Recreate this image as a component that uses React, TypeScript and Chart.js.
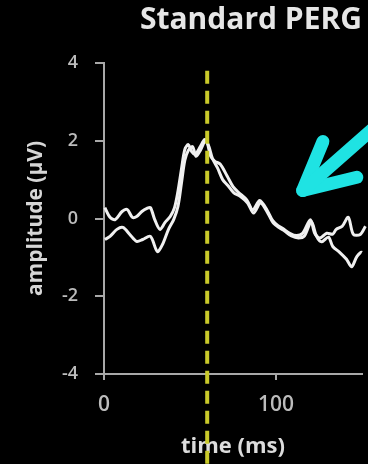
import React, { useEffect, useRef } from 'react';
import { Chart, registerables } from 'chart.js';

Chart.register(...registerables);

// ---- data ----
const timeA = [0.5, 3.5, 6.5, 10.5, 13.5, 16.5, 19, 22, 25, 27, 29.5, 32.5, 35.5, 38.5, 41, 43, 45, 47, 49, 51, 53, 56, 58.5, 60, 62, 64.5, 67.5, 71.5, 75, 78, 83, 86.5, 90.5, 95, 98, 101, 104, 108, 112, 115.5, 120, 122.5, 125.5, 129.5, 133, 135, 138.5, 142, 145, 149, 152, 153.5];
const ampA = [0.28, 0.03, -0.03, 0.18, 0.23, 0.03, 0.05, 0.18, 0.26, 0.28, -0.03, -0.28, -0.1, 0.05, 0.28, 0.7, 1.26, 1.78, 1.9, 1.72, 1.65, 1.85, 2.03, 1.96, 1.6, 1.47, 1.4, 1.1, 0.82, 0.68, 0.48, 0.22, 0.46, 0.2, -0.05, -0.18, -0.26, -0.38, -0.44, -0.38, -0.03, -0.38, -0.5, -0.38, -0.4, -0.28, -0.2, 0.03, -0.41, -0.41, -0.2, -0.1];

const timeB = [0.5, 3.5, 7.5, 11, 15, 19, 22.5, 27, 31, 34, 37.5, 40.5, 43, 45, 47, 49, 51.5, 53.5, 56, 59, 61, 63, 66, 69, 72, 75.5, 79, 83.5, 87, 91, 95.5, 98.5, 102, 105, 109, 113, 116.5, 120.5, 123.5, 126.5, 130.5, 133, 137, 141, 144, 147, 150, 153];
const ampB = [-0.54, -0.46, -0.28, -0.23, -0.41, -0.59, -0.54, -0.46, -0.85, -0.67, -0.28, -0.03, 0.31, 0.9, 1.5, 1.75, 1.85, 1.6, 1.75, 2.0, 1.85, 1.55, 1.3, 1.0, 0.85, 0.66, 0.58, 0.4, 0.14, 0.4, 0.12, -0.12, -0.24, -0.32, -0.45, -0.5, -0.45, -0.08, -0.45, -0.6, -0.48, -0.72, -0.87, -1.05, -1.24, -0.98, -0.87, -1.13];

const xTickValues = [0, 100];
const yTickValues = [-4, -2, 0, 2, 4];
const X_MIN = 0;
const X_MAX = 150;
const Y_MIN = -4;
const Y_MAX = 4;

const TITLE = 'Standard PERG';
const X_TITLE = 'time (ms)';
const Y_TITLE = 'amplitude (μV)';

// vertical marker (ms)
const MARKER_TIME = 60;
const MARKER_TOP_VALUE = 3.8;

// arrow annotation, in data units [time, amplitude]
const ARROW_TIP = [115.5, 0.72];
const ARROW_WING1 = [127.3, 1.98];
const ARROW_WING2 = [147, 1.06];
const ARROW_TAIL = [160, 2.45];

const FONT = '"Open Sans", sans-serif';

const overlayPlugin = {
  id: 'overlay',
  afterDatasetsDraw(chart: any) {
    const { ctx, scales } = chart;
    const xs = scales.x;
    const ys = scales.y;
    const px = (p: number[]) => [xs.getPixelForValue(p[0]), ys.getPixelForValue(p[1])];

    ctx.save();
    // arrow
    ctx.strokeStyle = '#1fe3e3';
    ctx.lineWidth = 13;
    ctx.lineCap = 'round';
    ctx.lineJoin = 'round';
    const t = px(ARROW_TIP);
    const w1 = px(ARROW_WING1);
    const w2 = px(ARROW_WING2);
    const tl = px(ARROW_TAIL);
    ctx.beginPath();
    ctx.moveTo(w1[0], w1[1]);
    ctx.lineTo(t[0], t[1]);
    ctx.lineTo(w2[0], w2[1]);
    ctx.stroke();
    ctx.beginPath();
    ctx.moveTo(t[0], t[1]);
    ctx.lineTo(tl[0], tl[1]);
    ctx.stroke();

    // dashed yellow marker
    const mx = xs.getPixelForValue(MARKER_TIME);
    ctx.strokeStyle = '#c9c92a';
    ctx.lineWidth = 4;
    ctx.lineCap = 'butt';
    ctx.setLineDash([13, 7]);
    ctx.beginPath();
    ctx.moveTo(mx, ys.getPixelForValue(MARKER_TOP_VALUE));
    ctx.lineTo(mx, chart.height);
    ctx.stroke();
    ctx.restore();
  },
};

export default function App() {
  const ref = useRef<HTMLCanvasElement | null>(null);

  useEffect(() => {
    document.body.style.background = '#000';
    document.body.style.margin = '0';
    const canvas = ref.current;
    if (!canvas) return;
    const chart = new Chart(canvas, {
      type: 'line',
      data: {
        datasets: [
          {
            data: timeA.map((x, i) => ({ x, y: ampA[i] })),
            borderColor: '#f0f0f0',
            borderWidth: 3,
            pointRadius: 0,
            tension: 0.3,
            clip: false as any,
          },
          {
            data: timeB.map((x, i) => ({ x, y: ampB[i] })),
            borderColor: '#f0f0f0',
            borderWidth: 3,
            pointRadius: 0,
            tension: 0.3,
            clip: false as any,
          },
        ],
      },
      options: {
        animation: false,
        responsive: false,
        maintainAspectRatio: false,
        layout: { padding: { left: 0, right: 6, top: 0, bottom: 0 } },
        plugins: {
          legend: { display: false },
          tooltip: { enabled: false },
          title: {
            display: true,
            text: TITLE,
            align: 'end',
            color: '#e6e6e6',
            font: { family: FONT, size: 30, weight: 'bold' },
            padding: { top: 2, bottom: 25 },
          },
        },
        scales: {
          x: {
            type: 'linear',
            min: X_MIN,
            max: X_MAX,
            afterBuildTicks: (s: any) => {
              s.ticks = xTickValues.map((v) => ({ value: v }));
            },
            afterFit: (s: any) => {
              s.height = 90;
            },
            grid: {
              drawOnChartArea: false,
              drawTicks: true,
              tickLength: 6,
              color: '#a8a8a8',
              lineWidth: 2,
            },
            border: { display: true, color: '#a8a8a8', width: 2 },
            ticks: {
              color: '#bcbcbc',
              font: { family: FONT, size: 21, weight: '600' },
              padding: 12,
              maxRotation: 0,
            },
            title: {
              display: true,
              text: X_TITLE,
              color: '#dcdcdc',
              font: { family: FONT, size: 22, weight: 'bold' },
              padding: { top: 0, bottom: 4 },
            },
          },
          y: {
            type: 'linear',
            min: Y_MIN,
            max: Y_MAX,
            afterBuildTicks: (s: any) => {
              s.ticks = yTickValues.map((v) => ({ value: v }));
            },
            afterFit: (s: any) => {
              s.width = 104;
            },
            grid: {
              drawOnChartArea: false,
              drawTicks: true,
              tickLength: 9,
              color: '#a8a8a8',
              lineWidth: 2,
            },
            border: { display: true, color: '#a8a8a8', width: 2 },
            ticks: {
              color: '#bcbcbc',
              font: { family: FONT, size: 18, weight: '600' },
              padding: 17,
            },
            title: {
              display: true,
              text: Y_TITLE,
              color: '#d6d6d6',
              font: { family: FONT, size: 21, weight: 'bold' },
              padding: { top: 23, bottom: 0 },
            },
          },
        },
      },
      plugins: [overlayPlugin],
    });
    return () => chart.destroy();
  }, []);

  return (
    <div style={{ position: 'fixed', left: 0, top: 0, width: 368, height: 464, background: '#000' }}>
      <canvas ref={ref} width={368} height={464} style={{ display: 'block' }} />
    </div>
  );
}
